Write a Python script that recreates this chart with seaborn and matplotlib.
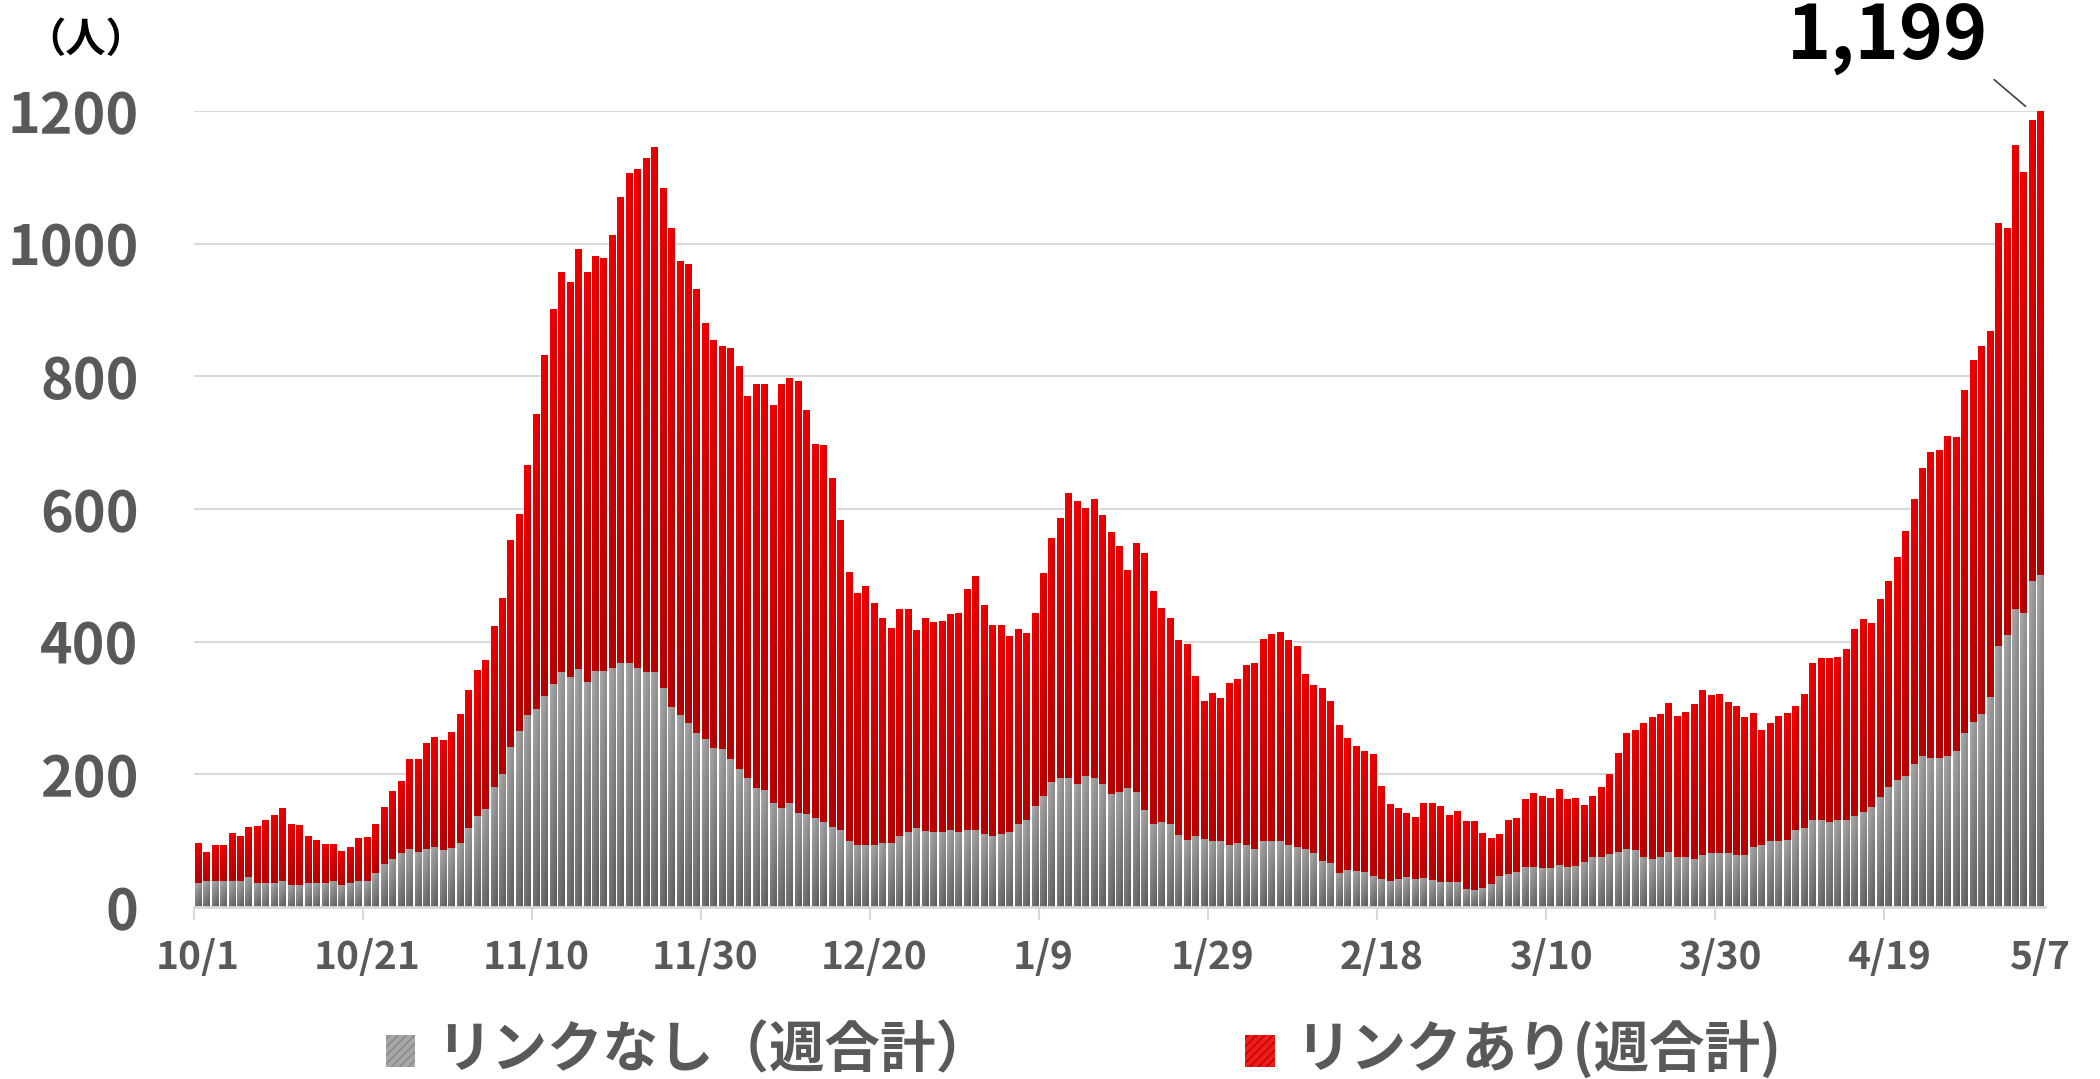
import numpy as np
import pandas as pd
import matplotlib
matplotlib.use("Agg")
import matplotlib.pyplot as plt
import seaborn as sns
from matplotlib.colors import to_rgb
from matplotlib.patches import Rectangle

# daily bars 2020/10/1 - 2021/5/7 (weekly sums)
days = pd.date_range("2020-10-01", "2021-05-07", freq="D")
day_labels = [f"{d.month}/{d.day}" for d in days]

# リンクなし (gray, bottom)
nolink = [
    36, 38, 39, 39, 39, 38, 45, 35, 35, 35, 39, 33, 33, 35, 35, 35, 38, 32, 35, 39, 39, 51,
    64, 71, 80, 86, 82, 86, 89, 85, 88, 95, 118, 136, 147, 180, 199, 241, 265, 288, 297, 318, 335, 354,
    346, 358, 339, 355, 355, 360, 367, 367, 360, 354, 354, 330, 301, 289, 276, 262, 253, 239, 238, 222, 208, 193,
    179, 175, 156, 149, 156, 141, 139, 133, 127, 120, 116, 99, 92, 93, 92, 95, 96, 107, 113, 118, 114, 113,
    113, 115, 113, 116, 115, 110, 106, 109, 113, 124, 130, 151, 167, 188, 193, 193, 184, 197, 194, 184, 169, 173,
    178, 173, 146, 125, 127, 125, 108, 101, 107, 102, 99, 98, 93, 96, 93, 87, 98, 99, 98, 93, 89, 86,
    81, 69, 66, 51, 55, 54, 52, 46, 42, 39, 42, 45, 42, 43, 40, 37, 37, 37, 27, 25, 28, 34,
    46, 49, 52, 59, 59, 58, 58, 62, 59, 61, 67, 74, 74, 79, 82, 86, 85, 74, 71, 74, 82, 74,
    74, 71, 78, 81, 81, 80, 78, 78, 90, 93, 98, 99, 101, 115, 119, 130, 130, 128, 130, 130, 137, 143,
    150, 165, 180, 191, 197, 215, 227, 224, 224, 227, 235, 262, 278, 290, 316, 392, 409, 449, 442, 491, 499,
]

# リンクあり (red, stacked on top)
linked = [
    59, 45, 53, 53, 71, 68, 74, 87, 96, 104, 110, 91, 89, 72, 66, 60, 57, 52, 55, 64, 65, 73,
    86, 103, 110, 136, 141, 160, 166, 167, 175, 195, 209, 221, 224, 243, 266, 312, 326, 377, 446, 513, 566, 603,
    594, 634, 618, 626, 624, 652, 704, 740, 752, 774, 790, 753, 722, 684, 693, 669, 626, 615, 607, 621, 607, 577,
    609, 613, 601, 639, 642, 650, 610, 564, 569, 526, 467, 405, 381, 390, 366, 340, 324, 341, 335, 299, 321, 316,
    317, 327, 329, 363, 384, 344, 319, 316, 294, 295, 283, 292, 335, 367, 392, 431, 428, 404, 420, 407, 395, 370,
    330, 374, 387, 351, 323, 310, 293, 295, 241, 208, 222, 217, 244, 247, 271, 280, 306, 312, 316, 309, 304, 265,
    252, 260, 243, 222, 200, 187, 183, 183, 139, 116, 106, 95, 92, 112, 115, 114, 100, 106, 102, 103, 82, 68,
    63, 81, 82, 104, 113, 109, 106, 116, 104, 103, 87, 93, 107, 122, 150, 176, 182, 203, 215, 217, 225, 214,
    220, 235, 248, 237, 239, 228, 224, 208, 201, 172, 179, 187, 190, 188, 201, 238, 245, 247, 247, 259, 281, 290,
    276, 299, 311, 335, 369, 398, 433, 460, 463, 482, 472, 516, 546, 556, 551, 639, 614, 698, 665, 694, 700,
]

tick_days = ["10/1", "10/21", "11/10", "11/30", "12/20", "1/9", "1/29",
             "2/18", "3/10", "3/30", "4/19", "5/7"]
y_ticks = [0, 200, 400, 600, 800, 1000, 1200]

df = pd.DataFrame({"day": day_labels, "nolink": nolink, "linked": linked})
df["total"] = df["nolink"] + df["linked"]

sns.set_theme(style="white")
plt.rcParams["font.family"] = ["Noto Sans CJK JP", "DejaVu Sans"]
plt.rcParams["hatch.linewidth"] = 1.0

W, H = 2100, 1079
fig = plt.figure(figsize=(W / 100, H / 100), dpi=100)
ax = fig.add_axes([194 / W, (H - 907) / H, (2045 - 194) / W, (907 - 111) / H])

sns.barplot(data=df, x="day", y="total", order=day_labels, color="#e00000",
            width=0.82, saturation=1, ax=ax)
sns.barplot(data=df, x="day", y="nolink", order=day_labels, color="#909090",
            width=0.82, saturation=1, ax=ax)


def gradient(c_top, c_bot, h=40, w=8):
    t = np.linspace(0, 1, h)[:, None]
    s = np.linspace(0, 1, w)[None, :]
    k = np.clip(0.7 * t + 0.3 * s, 0, 1)
    top, bot = np.array(to_rgb(c_top)), np.array(to_rgb(c_bot))
    return top + (bot - top) * k[..., None]


red_img = gradient("#f40000", "#a80000")
gray_img = gradient("#a8a8a8", "#5c5c5c")

n = len(day_labels)
red_bars = ax.patches[:n]
gray_bars = ax.patches[n:]
for i in range(n):
    rb, gb = red_bars[i], gray_bars[i]
    x0, w = gb.get_x(), gb.get_width()
    g, t = gb.get_height(), rb.get_height()
    ax.imshow(red_img, extent=(x0, x0 + w, g, t), aspect="auto",
              interpolation="bilinear", zorder=3)
    ax.imshow(gray_img, extent=(x0, x0 + w, 0, g), aspect="auto",
              interpolation="bilinear", zorder=3)

ax.set_xlim(-0.5, n - 0.5)
ax.set_ylim(0, 1200)

# grid / spines
ax.set_axisbelow(True)
ax.yaxis.grid(True, color="#d9d9d9", linewidth=1.5)
for s in ["top", "right", "left"]:
    ax.spines[s].set_visible(False)
ax.spines["bottom"].set_color("#d9d9d9")
ax.spines["bottom"].set_linewidth(2)
ax.spines["bottom"].set_zorder(5)

tick_pos = [day_labels.index(d) for d in tick_days]
ax.set_xticks(tick_pos)
ax.set_xticklabels(tick_days)
ax.set_xticks([p - 0.5 for p in tick_pos[:-1]], minor=True)
ax.tick_params(axis="x", which="major", length=0, pad=22, labelsize=28,
               labelcolor="#595959")
ax.tick_params(axis="x", which="minor", bottom=True, length=9, width=1.5,
               color="#d9d9d9")
ax.set_yticks(y_ticks)
ax.tick_params(axis="y", length=0, pad=40, labelsize=40, labelcolor="#595959")
for lab in ax.get_xticklabels() + ax.get_yticklabels():
    lab.set_fontweight("bold")
ax.set_xlabel("")
ax.set_ylabel("")

fig.text(86 / W, 1 - 40 / H, "（人）", ha="center", va="center",
         fontsize=29, fontweight="bold", color="black")

ax.annotate("1,199", xy=(216.2, 1207), xycoords="data",
            xytext=(1888, H - 37), textcoords="figure pixels",
            ha="center", va="center", fontsize=54, fontweight="bold",
            color="black", annotation_clip=False,
            arrowprops=dict(arrowstyle="-", color="#404040", lw=1.2,
                            relpos=(1, 0), shrinkA=2, shrinkB=0))

# legend
fig.add_artist(Rectangle((386 / W, 1 - 1067 / H), 29 / W, 32 / H,
                         transform=fig.transFigure, facecolor="#a6a6a6",
                         edgecolor="#888888", hatch="////", linewidth=0))
fig.text(436 / W, 1 - 1051 / H, "リンクなし（週合計）", ha="left", va="center",
         fontsize=40, fontweight="bold", color="#595959")
fig.add_artist(Rectangle((1245 / W, 1 - 1067 / H), 30 / W, 32 / H,
                         transform=fig.transFigure, facecolor="#ee1c1c",
                         edgecolor="#c00000", hatch="////", linewidth=0))
fig.text(1295 / W, 1 - 1051 / H, "リンクあり(週合計)", ha="left", va="center",
         fontsize=40, fontweight="bold", color="#595959")

fig.savefig("out.png", dpi=100)
